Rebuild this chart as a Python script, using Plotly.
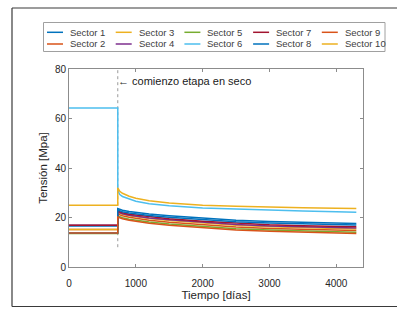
import plotly.graph_objects as go

# ---------------- data ----------------
t_days = [0, 730, 730, 760, 800, 900, 1000, 1200, 1500, 2000, 2500, 3000, 3500, 4000, 4300]

sector_names = ["Sector 1", "Sector 2", "Sector 3", "Sector 4", "Sector 5",
                "Sector 6", "Sector 7", "Sector 8", "Sector 9", "Sector 10"]

s1 = [16.6, 16.6, 23.6, 23.2, 22.9, 22.4, 22.0, 21.4, 20.7, 19.7, 18.9, 18.4, 18.0, 17.7, 17.6]
s2 = [15.2, 15.2, 21.4, 21.0, 20.7, 20.1, 19.7, 18.9, 18.1, 17.1, 16.2, 15.6, 15.2, 14.8, 14.7]
s3 = [15.2, 15.2, 22.0, 21.6, 21.3, 20.7, 20.3, 19.6, 18.8, 17.7, 16.9, 16.3, 15.9, 15.5, 15.4]
s4 = [16.9, 16.9, 22.2, 21.8, 21.5, 20.9, 20.5, 19.8, 19.1, 18.0, 17.2, 16.6, 16.3, 15.9, 15.8]
s5 = [13.5, 13.5, 20.6, 20.2, 19.9, 19.3, 18.9, 18.2, 17.4, 16.3, 15.5, 14.9, 14.5, 14.1, 14.0]
s6 = [64.2, 64.2, 31.0, 29.3, 28.5, 27.4, 26.6, 25.6, 24.7, 23.8, 23.3, 22.9, 22.6, 22.3, 22.1]
s7 = [16.9, 16.9, 22.6, 22.2, 21.9, 21.3, 21.0, 20.3, 19.5, 18.5, 17.7, 17.1, 16.7, 16.4, 16.3]
s8 = [13.7, 13.7, 23.0, 22.6, 22.3, 21.8, 21.4, 20.8, 20.1, 19.1, 18.3, 17.8, 17.4, 17.1, 17.0]
s9 = [13.7, 13.7, 20.2, 19.8, 19.5, 18.9, 18.5, 17.7, 16.9, 15.9, 15.0, 14.4, 14.0, 13.6, 13.5]
s10 = [25.0, 25.0, 32.0, 30.6, 29.8, 28.6, 27.8, 26.8, 25.9, 25.0, 24.5, 24.1, 23.9, 23.7, 23.6]

series = [s1, s2, s3, s4, s5, s6, s7, s8, s9, s10]

colors = ["#0072BD", "#D95319", "#EDB120", "#7E2F8E", "#77AC30",
          "#4DBEEE", "#A2142F", "#0072BD", "#D95319", "#EDB120"]

dry_start_x = [730, 730]
dry_start_y = [8, 80]
dry_label = "\u2190 comienzo etapa en seco"

x_ticks = [0, 1000, 2000, 3000, 4000]
y_ticks = [0, 20, 40, 60, 80]

# ---------------- figure ----------------
FONT = "Liberation Sans, Arial, Helvetica, sans-serif"
W, H = 397, 309
L, R, T, B = 69, 34, 69, 42
PW, PH = W - L - R, H - T - B


def px_x(p):
    return (p - L) / PW


def px_y(p):
    return (H - B - p) / PH


fig = go.Figure()

fig.add_trace(go.Scatter(x=dry_start_x, y=dry_start_y, mode="lines",
                         line=dict(color="#9a9a9a", width=1, dash="dot"),
                         showlegend=False, hoverinfo="skip"))

for name, ys, c in zip(sector_names, series, colors):
    fig.add_trace(go.Scatter(x=t_days, y=ys, mode="lines", name=name,
                             line=dict(color=c, width=1.5), showlegend=False))

shapes = []
annotations = []

# outer frame: left, top and bottom edges (the right edge is off the page in the reference)
frame_line = dict(color="#3a3a3a", width=1.2)
for (xa, ya, xb, yb) in [(12, 8, 12, 306.5), (12, 8, 397, 8), (12, 306.5, 397, 306.5)]:
    shapes.append(dict(type="line", xref="paper", yref="paper",
                       x0=px_x(xa), y0=px_y(ya), x1=px_x(xb), y1=px_y(yb),
                       line=frame_line, layer="above"))

# legend box
shapes.append(dict(type="rect", xref="paper", yref="paper",
                   x0=px_x(43.5), x1=px_x(385), y0=px_y(51.5), y1=px_y(22.5),
                   line=dict(color="#a0a0a0", width=1), fillcolor="white"))

# legend entries: 2 rows, column-major ordering
col_spacing = 68.7
for i, (name, c) in enumerate(zip(sector_names, colors)):
    col, row = i // 2, i % 2
    yc = 32.3 if row == 0 else 44.0
    x_line = 47 + col_spacing * col
    shapes.append(dict(type="line", xref="paper", yref="paper",
                       x0=px_x(x_line), x1=px_x(x_line + 16), y0=px_y(yc), y1=px_y(yc),
                       line=dict(color=c, width=1.5)))
    annotations.append(dict(xref="paper", yref="paper", x=px_x(x_line + 21), y=px_y(yc),
                            text=name, showarrow=False, xanchor="left", yanchor="middle",
                            font=dict(family=FONT, size=9.5, color="#404040")))

annotations.append(dict(x=dry_start_x[0], y=75, xref="x", yref="y", text=dry_label,
                        showarrow=False, xanchor="left", yanchor="middle", xshift=-2,
                        font=dict(family=FONT, size=11, color="#1a1a1a")))

axis_common = dict(showgrid=False, zeroline=False, showline=True, linecolor="#8c8c8c",
                   linewidth=1, mirror="ticks", ticks="inside", ticklen=3,
                   tickcolor="#8c8c8c", tickfont=dict(family=FONT, size=10, color="#262626"))

fig.update_layout(
    width=W, height=H,
    margin=dict(l=L, r=R, t=T, b=B, autoexpand=False),
    paper_bgcolor="white", plot_bgcolor="white",
    showlegend=False,
    xaxis=dict(range=[0, 4400], tickvals=x_ticks, ticktext=[str(v) for v in x_ticks],
               ticklabelstandoff=7,
               title=dict(text="Tiempo [días]", font=dict(family=FONT, size=11.5, color="#262626"),
                          standoff=2),
               **axis_common),
    yaxis=dict(range=[0, 80], tickvals=y_ticks, ticktext=[str(v) for v in y_ticks],
               title=dict(text="Tensión [Mpa]", font=dict(family=FONT, size=11.5, color="#262626"),
                          standoff=4),
               **axis_common),
    shapes=shapes,
    annotations=annotations,
)

fig.write_html(
    "out.html",
    config={"displayModeBar": False},
    post_script=("document.body.style.margin='0px';"
                 "document.body.style.overflow='hidden';"
                 "document.documentElement.style.overflow='hidden';"),
)
